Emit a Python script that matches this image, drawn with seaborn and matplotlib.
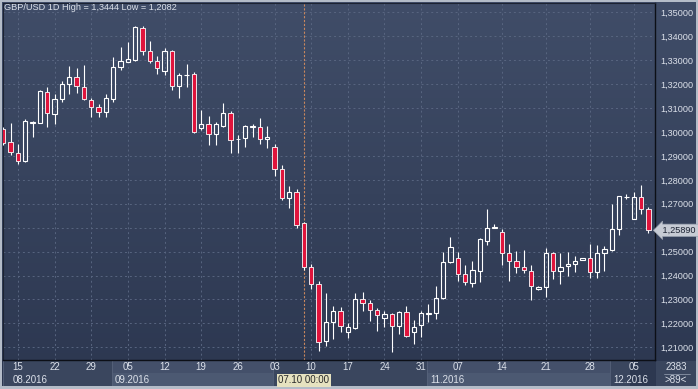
"""
GBP/USD 日线蜡烛图（2016-08 ~ 2016-12）
"""

import numpy as np
import pandas as pd
import matplotlib
matplotlib.use("Agg")
import matplotlib.pyplot as plt
import matplotlib.transforms as mtransforms
import seaborn as sns


# ============================================================
# 数据
# ============================================================

opens = [1.3011, 1.2957, 1.2911, 1.2879, 1.3037, 1.3039, 1.3168, 1.3075, 1.3136, 1.3199,
         1.3231, 1.3189, 1.3134, 1.3106, 1.3082, 1.3136, 1.3270, 1.3292, 1.3300, 1.3436,
         1.3340, 1.3296, 1.3256, 1.3338, 1.3193, 1.3236, 1.3242, 1.3018, 1.3033, 1.2990,
         1.3025, 1.3078, 1.2970, 1.2973, 1.3019, 1.3019, 1.2969, 1.2936, 1.2844, 1.2725,
         1.2748, 1.2618, 1.2434, 1.2363, 1.2126, 1.2205, 1.2253, 1.2163, 1.2180, 1.2301,
         1.2284, 1.2255, 1.2221, 1.2239, 1.2189, 1.2246, 1.2163, 1.2193, 1.2241, 1.2242,
         1.2305, 1.2458, 1.2472, 1.2406, 1.2370, 1.2420, 1.2546, 1.2597, 1.2581, 1.2493,
         1.2461, 1.2434, 1.2420, 1.2345, 1.2351, 1.2493, 1.2419, 1.2440, 1.2447, 1.2465,
         1.2472, 1.2413, 1.2493, 1.2507, 1.2593, 1.2729, 1.2635, 1.2727, 1.2677]
highs = [1.3021, 1.3039, 1.2950, 1.3054, 1.3047, 1.3175, 1.3187, 1.3157, 1.3214, 1.3277,
         1.3267, 1.3280, 1.3141, 1.3116, 1.3159, 1.3312, 1.3354, 1.3375, 1.3444, 1.3441,
         1.3381, 1.3317, 1.3352, 1.3342, 1.3245, 1.3284, 1.3252, 1.3092, 1.3067, 1.3043,
         1.3120, 1.3089, 1.2987, 1.3029, 1.3033, 1.3060, 1.3025, 1.2950, 1.2862, 1.2774,
         1.2762, 1.2625, 1.2448, 1.2377, 1.2328, 1.2273, 1.2270, 1.2200, 1.2328, 1.2332,
         1.2298, 1.2266, 1.2252, 1.2245, 1.2252, 1.2273, 1.2214, 1.2252, 1.2280, 1.2356,
         1.2497, 1.2562, 1.2500, 1.2444, 1.2462, 1.2556, 1.2677, 1.2614, 1.2593, 1.2532,
         1.2503, 1.2507, 1.2444, 1.2356, 1.2514, 1.2500, 1.2493, 1.2500, 1.2482, 1.2472,
         1.2532, 1.2528, 1.2523, 1.2699, 1.2732, 1.2741, 1.2750, 1.2778, 1.2685]
lows = [1.2945, 1.2904, 1.2866, 1.2874, 1.2978, 1.3037, 1.3022, 1.3033, 1.3126, 1.3159,
        1.3162, 1.3134, 1.3061, 1.3061, 1.3061, 1.3126, 1.3259, 1.3292, 1.3298, 1.3322,
        1.3287, 1.3242, 1.3238, 1.3175, 1.3141, 1.3189, 1.2997, 1.3008, 1.2945, 1.2945,
        1.3022, 1.2913, 1.2913, 1.2938, 1.2978, 1.2950, 1.2934, 1.2816, 1.2716, 1.2683,
        1.2600, 1.2423, 1.2344, 1.2084, 1.2106, 1.2134, 1.2165, 1.2138, 1.2175, 1.2252,
        1.2210, 1.2169, 1.2184, 1.2082, 1.2156, 1.2144, 1.2113, 1.2142, 1.2205, 1.2218,
        1.2301, 1.2451, 1.2378, 1.2360, 1.2353, 1.2374, 1.2528, 1.2597, 1.2444, 1.2378,
        1.2409, 1.2409, 1.2298, 1.2340, 1.2312, 1.2384, 1.2363, 1.2398, 1.2416, 1.2465,
        1.2388, 1.2388, 1.2420, 1.2504, 1.2569, 1.2719, 1.2635, 1.2657, 1.2579]
closes = [1.2955, 1.2917, 1.2880, 1.3046, 1.3043, 1.3172, 1.3078, 1.3136, 1.3200, 1.3231,
          1.3192, 1.3136, 1.3106, 1.3082, 1.3141, 1.3270, 1.3296, 1.3304, 1.3438, 1.3338,
          1.3296, 1.3266, 1.3338, 1.3193, 1.3238, 1.3238, 1.3001, 1.3032, 1.2990, 1.3033,
          1.3078, 1.2966, 1.2969, 1.3025, 1.3025, 1.2969, 1.2978, 1.2844, 1.2725, 1.2748,
          1.2611, 1.2434, 1.2363, 1.2121, 1.2205, 1.2253, 1.2189, 1.2184, 1.2301, 1.2284,
          1.2256, 1.2235, 1.2238, 1.2189, 1.2246, 1.2149, 1.2186, 1.2242, 1.2243, 1.2305,
          1.2458, 1.2518, 1.2406, 1.2371, 1.2423, 1.2551, 1.2597, 1.2602, 1.2493, 1.2461,
          1.2434, 1.2423, 1.2356, 1.2353, 1.2493, 1.2419, 1.2437, 1.2448, 1.2462, 1.2472,
          1.2413, 1.2493, 1.2510, 1.2593, 1.2732, 1.2730, 1.2727, 1.2677, 1.2589]

# 每周一所在的 K 线序号与日期标签
day_ticks = [2, 7, 12, 17, 22, 27, 32, 37, 42, 47, 52, 57, 62, 68, 74, 80, 86]
day_labels = ["15", "22", "29", "05", "12", "19", "26", "03", "10", "17",
              "24", "31", "07", "14", "21", "28", "05"]

# 每月第一根 K 线的序号
month_starts = [0, 15, 37, 58, 83]
month_labels = ["08.2016", "09.2016", "10.2016", "11.2016", "12.2016"]

price_ticks = [1.21, 1.22, 1.23, 1.24, 1.25, 1.26, 1.27, 1.28, 1.29,
               1.30, 1.31, 1.32, 1.33, 1.34, 1.35]

cursor_idx = 41
cursor_label = "07.10 00:00"
last_price = 1.2589
title = "GBP/USD 1D High = 1,3444 Low = 1,2082"


# ============================================================
# 样式
# ============================================================

W, H = 698, 389
UP_COLOR = "#ffffff"
DOWN_COLOR = "#e0143c"
TEXT_COLOR = "#dce1ea"
GRID_COLOR = "#586580"

sns.set_style("dark", rc={
    "axes.facecolor": "none",
    "figure.facecolor": "#b4bcc8",
})
plt.rcParams["font.family"] = ["Liberation Sans", "DejaVu Sans"]


def px_rect(x0, y0, x1, y1):
    """像素坐标（左上角为原点）转换为 figure 坐标。"""
    return [x0 / W, 1 - y1 / H, (x1 - x0) / W, (y1 - y0) / H]


df = pd.DataFrame({"open": opens, "high": highs, "low": lows, "close": closes})
df["idx"] = np.arange(len(df))
df["up"] = df["close"] >= df["open"]
df["top"] = df[["open", "close"]].max(axis=1)
df["bottom"] = df[["open", "close"]].min(axis=1)

fig = plt.figure(figsize=(W / 100, H / 100), dpi=100)

# 背景渐变
bg_ax = fig.add_axes(px_rect(2, 2, 696, 386), zorder=0)
grad = np.linspace(0, 1, 256).reshape(-1, 1)
cmap = matplotlib.colors.LinearSegmentedColormap.from_list("bg", ["#404d68", "#2c3750"])
bg_ax.imshow(grad, aspect="auto", cmap=cmap, extent=[0, 1, 0, 1])
bg_ax.set_axis_off()

# 主图
ax = fig.add_axes(px_rect(3, 3, 655, 360), zorder=2)
ax.set_facecolor("none")
xmin, xmax = -0.04, 88.9
ax.set_xlim(xmin, xmax)
ax.set_ylim(1.2047, 1.35389)

ax.vlines(df["idx"], df["top"], df["high"], color="white", lw=0.8, zorder=3)
ax.vlines(df["idx"], df["low"], df["bottom"], color="white", lw=0.8, zorder=3)
up = df[df["up"]]
dn = df[~df["up"]]
ax.bar(up["idx"], up["top"] - up["bottom"], bottom=up["bottom"], width=0.6,
       facecolor="none", edgecolor=UP_COLOR, linewidth=0.8, zorder=4)
ax.bar(dn["idx"], dn["top"] - dn["bottom"], bottom=dn["bottom"], width=0.6,
       facecolor=DOWN_COLOR, edgecolor="white", linewidth=0.6, zorder=4)

ax.set_xticks(day_ticks)
ax.set_xticklabels([])
ax.set_yticks(price_ticks)
# 最新价标签盖住了 1,26000，所以该刻度不写文字
ax.set_yticklabels(["" if abs(v - last_price) < 0.003 else f"{v:.5f}".replace(".", ",")
                    for v in price_ticks])
ax.yaxis.tick_right()
ax.tick_params(axis="both", length=0)
ax.tick_params(axis="y", labelsize=6.6, labelcolor=TEXT_COLOR, pad=4)
ax.grid(True, color=GRID_COLOR, linestyle=(0, (2, 3)), linewidth=0.7)
for side in ["left", "top"]:
    ax.spines[side].set_color("#1c2332")
    ax.spines[side].set_linewidth(0.8)
for side in ["right", "bottom"]:
    ax.spines[side].set_color("#0c0f16")
    ax.spines[side].set_linewidth(1.0)

ax.axvline(cursor_idx, color="#c8875e", linestyle=(0, (2, 1.5)), lw=0.8, zorder=2)

ax.text(1.0, last_price, " 1,25890 ",
        transform=mtransforms.blended_transform_factory(ax.transAxes, ax.transData)
        + mtransforms.ScaledTranslation(5 / 100, 0, fig.dpi_scale_trans),
        ha="left", va="center", fontsize=6.6, color="#1c2333", zorder=10,
        bbox=dict(boxstyle="larrow,pad=0.18", fc="#c6cbd4", ec="#9aa2b0", lw=0.5))

fig.text(4 / W, 1 - 8 / H, title, fontsize=6.6, color=TEXT_COLOR, va="center", ha="left")

# 日期栏
date_ax = fig.add_axes(px_rect(3, 360, 655, 386), zorder=1)
date_ax.set_xlim(xmin, xmax)
date_ax.set_ylim(0, 1)
date_ax.set_facecolor("#3a465e")
bounds = [m - 0.2 for m in month_starts] + [xmax]
for k, lab in enumerate(month_labels):
    x0, x1 = max(bounds[k], xmin), bounds[k + 1]
    if k % 2 == 1:
        date_ax.axvspan(x0, x1, ymin=0.5, ymax=1, color="#44506a", lw=0)
        date_ax.axvspan(x0, x1, ymin=0, ymax=0.5, color="#4c5972", lw=0)
    date_ax.axvline(x0, color="#56627a", lw=0.6)
    # 光标标签所在的月份文字被遮住
    if x0 <= cursor_idx < x1:
        continue
    date_ax.text(x0 + 0.4 if k else 1.3, 0.22, lab, fontsize=7, color=TEXT_COLOR,
                 ha="left", va="center")
for t, lab in zip(day_ticks, day_labels):
    date_ax.text(t, 0.72, lab, fontsize=7, color=TEXT_COLOR, ha="center", va="center")
date_ax.axvspan(85.5, xmax, color="#1f2840", alpha=0.45, lw=0)
date_ax.text(cursor_idx, 0.22, cursor_label, fontsize=7, color="#2a2a2a", ha="center",
             va="center", bbox=dict(boxstyle="square,pad=0.15", fc="#e6e2c0", ec="none"))
date_ax.set_xticks([])
date_ax.set_yticks([])
for s in date_ax.spines.values():
    s.set_visible(False)

# 右下角
corner = fig.add_axes(px_rect(656, 361, 696, 386), zorder=1)
corner.set_facecolor("#3a465e")
corner.set_xticks([])
corner.set_yticks([])
for s in corner.spines.values():
    s.set_visible(False)
corner.text(0.5, 0.74, "2383", fontsize=7, color=TEXT_COLOR, ha="center", va="center")
corner.text(0.5, 0.24, ">89<", fontsize=7, color=TEXT_COLOR, ha="center", va="center")
corner.plot([0.2, 0.85], [0.5, 0.5], color="#8a94a6", lw=0.6)
corner.set_xlim(0, 1)
corner.set_ylim(0, 1)

fig.savefig("out.png", dpi=100)
